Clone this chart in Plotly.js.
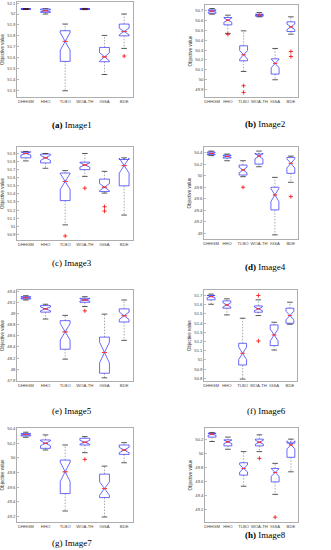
<!DOCTYPE html>
<html>
<head>
<meta charset="utf-8">
<script src="https://cdn.plot.ly/plotly-3.0.1.min.js"></script>
<style>html,body{margin:0;padding:0;background:#fff;}#chart{width:331px;height:550px;}</style>
</head>
<body>
<div id="chart"></div>
<script>
// ---- Data ----
const cats = ['DHHGM', 'HHO', 'TLBO', 'WOA-TH', 'IGSA', 'BDE'];
const captionLetter = ['(a)', '(b)', '(c)', '(d)', '(e)', '(f)', '(g)', '(h)'];
const captionName = ['Image1', 'Image2', 'Image3', 'Image4', 'Image5', 'Image6', 'Image7', 'Image8'];

// lower whisker end, per image (rows) and algorithm (columns)
const lowWhisker = [
  [52.041, 52.000, 51.297, 52.040, 51.446, 51.685],
  [50.666, 50.470, 50.081, 50.639, 49.996, 50.462],
  [51.808, 51.717, 51.017, 51.617, 51.410, 51.138],
  [50.354, 50.261, 49.984, 50.157, 48.972, 49.886],
  [49.241, 48.900, 48.182, 49.124, 47.847, 48.518],
  [51.605, 51.489, 50.791, 51.482, 51.107, 51.387],
  [50.283, 50.108, 49.271, 50.071, 49.189, 49.933],
  [50.176, 50.065, 49.533, 50.031, 49.417, 49.741]
];
const q1 = [
  [52.044, 52.015, 51.566, 52.042, 51.563, 51.800],
  [50.676, 50.557, 50.190, 50.646, 50.054, 50.489],
  [51.846, 51.783, 51.317, 51.700, 51.429, 51.500],
  [50.365, 50.308, 50.013, 50.203, 49.406, 50.042],
  [49.259, 49.024, 48.359, 49.200, 47.929, 48.847],
  [51.653, 51.562, 50.944, 51.518, 51.155, 51.398],
  [50.301, 50.131, 49.510, 50.177, 49.455, 50.048],
  [50.239, 50.113, 49.693, 50.113, 49.596, 49.949]
];
const median = [
  [52.046, 52.030, 51.749, 52.046, 51.608, 51.840],
  [50.697, 50.605, 50.251, 50.659, 50.163, 50.537],
  [51.900, 51.846, 51.554, 51.758, 51.483, 51.750],
  [50.388, 50.336, 50.100, 50.342, 49.666, 50.215],
  [49.282, 49.082, 48.671, 49.241, 48.300, 48.959],
  [51.689, 51.598, 51.071, 51.555, 51.271, 51.482],
  [50.320, 50.200, 49.809, 50.214, 49.579, 50.108],
  [50.282, 50.171, 49.789, 50.166, 49.731, 50.128]
];
const q3 = [
  [52.048, 52.046, 51.847, 52.049, 51.694, 51.908],
  [50.710, 50.632, 50.343, 50.666, 50.210, 50.588],
  [51.917, 51.892, 51.658, 51.792, 51.583, 51.825],
  [50.412, 50.360, 50.186, 50.377, 49.800, 50.319],
  [49.300, 49.141, 48.871, 49.271, 48.576, 49.082],
  [51.700, 51.642, 51.180, 51.587, 51.380, 51.562],
  [50.333, 50.246, 49.970, 50.269, 49.777, 50.177],
  [50.292, 50.200, 49.871, 50.210, 49.789, 50.152]
];
const highWhisker = [
  [52.050, 52.048, 51.908, 52.051, 51.804, 52.000],
  [50.724, 50.656, 50.496, 50.683, 50.316, 50.639],
  [51.925, 51.900, 51.688, 51.900, 51.679, 51.846],
  [50.429, 50.377, 50.261, 50.429, 49.972, 50.342],
  [49.318, 49.165, 48.965, 49.300, 48.988, 49.241],
  [51.715, 51.664, 51.453, 51.653, 51.409, 51.627],
  [50.352, 50.315, 50.177, 50.292, 49.887, 50.209],
  [50.306, 50.239, 50.031, 50.272, 49.862, 50.210]
];
const outlierCat = [
  ['BDE'],
  ['HHO', 'TLBO', 'TLBO', 'BDE', 'BDE'],
  ['TLBO', 'WOA-TH', 'IGSA', 'IGSA'],
  ['TLBO', 'BDE'],
  ['WOA-TH'],
  ['WOA-TH', 'WOA-TH'],
  ['WOA-TH'],
  ['WOA-TH', 'IGSA']
];
const outlierVal = [
  [51.615],
  [50.460, 49.935, 49.867, 50.285, 50.234],
  [50.880, 51.471, 51.242, 51.188],
  [49.800, 49.637],
  [49.047],
  [51.700, 51.205],
  [49.979],
  [49.934, 49.089]
];

// ---- Layout geometry (pixels in the 331x550 figure) ----
const W = 331, H = 550;
const boxes = [
  {x0: 17, x1: 133, y0: 2, y1: 97},
  {x0: 205, x1: 298, y0: 5, y1: 97},
  {x0: 17, x1: 133, y0: 147, y1: 240},
  {x0: 204, x1: 298, y0: 147, y1: 239},
  {x0: 17, x1: 133, y0: 290, y1: 381},
  {x0: 204, x1: 297, y0: 290, y1: 381},
  {x0: 17, x1: 133, y0: 428, y1: 522},
  {x0: 205, x1: 298, y0: 428, y1: 522}
];
const yRanges = [
  [51.24, 52.11], [49.82, 50.76], [50.83, 51.98], [48.90, 50.50],
  [47.79, 49.42], [50.77, 51.76], [49.12, 50.41], [49.02, 50.37]
];
const yDtick = [0.1, 0.1, 0.1, 0.2, 0.2, 0.1, 0.2, 0.2];
const captionPos = [
  {x: 72, y: 125}, {x: 265, y: 124}, {x: 72, y: 263}, {x: 265, y: 267},
  {x: 72, y: 411}, {x: 266, y: 411}, {x: 72, y: 543}, {x: 265, y: 535}
];
const boldCaption = [true, true, false, true, false, false, false, true];

const traces = [];
const layout = {
  width: W, height: H,
  margin: {l: 0, r: 0, t: 0, b: 0},
  paper_bgcolor: '#ffffff', plot_bgcolor: '#ffffff',
  showlegend: false,
  boxmode: 'overlay',
  font: {family: 'Liberation Sans, Arial, sans-serif', color: '#333'},
  annotations: []
};

for (let i = 0; i < 8; i++) {
  const xa = 'x' + (i + 1), ya = 'y' + (i + 1);
  const notch = q1[i].map((v, j) => 1.57 * (q3[i][j] - v) / Math.sqrt(30));

  // main notched box (blue outline)
  traces.push({
    type: 'box', xaxis: xa, yaxis: ya, x: cats,
    q1: q1[i], median: median[i], q3: q3[i],
    lowerfence: q1[i], upperfence: q3[i],
    notched: true, notchspan: notch, notchwidth: 0.5,
    width: 0.5, whiskerwidth: 0, boxpoints: false,
    line: {color: '#2a2aff', width: 0.7},
    fillcolor: 'rgba(0,0,0,0)', hoverinfo: 'skip'
  });
  // red median marks
  traces.push({
    type: 'box', xaxis: xa, yaxis: ya, x: cats,
    q1: median[i], median: median[i], q3: median[i],
    lowerfence: median[i], upperfence: median[i],
    width: 0.25, whiskerwidth: 0, boxpoints: false,
    line: {color: '#ff3030', width: 0.6},
    fillcolor: 'rgba(0,0,0,0)', hoverinfo: 'skip'
  });
  // dashed whiskers
  const wx = [], wy = [];
  cats.forEach((c, j) => {
    wx.push(c, c, null, c, c, null);
    wy.push(q3[i][j], highWhisker[i][j], null, q1[i][j], lowWhisker[i][j], null);
  });
  traces.push({
    type: 'scatter', mode: 'lines', xaxis: xa, yaxis: ya, x: wx, y: wy,
    line: {color: '#555', width: 0.5, dash: '1.5px,1.5px'}, hoverinfo: 'skip'
  });
  // whisker caps
  traces.push({
    type: 'scatter', mode: 'markers', xaxis: xa, yaxis: ya,
    x: cats.concat(cats), y: highWhisker[i].concat(lowWhisker[i]),
    marker: {symbol: 'line-ew', size: 4, line: {color: '#111', width: 0.7}},
    hoverinfo: 'skip'
  });
  // outliers
  traces.push({
    type: 'scatter', mode: 'markers', xaxis: xa, yaxis: ya,
    x: outlierCat[i], y: outlierVal[i],
    marker: {symbol: 'cross-thin', size: 3, color: '#ff0000', line: {color: '#ff0000', width: 0.8}},
    hoverinfo: 'skip'
  });

  const b = boxes[i];
  const axCommon = {
    showline: true, mirror: true, linecolor: '#8c8c8c', linewidth: 0.7,
    ticks: 'inside', ticklen: 2, tickcolor: '#8c8c8c', tickwidth: 0.6,
    showgrid: false, zeroline: false,
    tickfont: {size: 4.2, color: '#444', family: 'Liberation Sans, Arial, sans-serif'}
  };
  layout['xaxis' + (i + 1)] = Object.assign({}, axCommon, {
    anchor: ya, domain: [b.x0 / W, b.x1 / W],
    type: 'category', categoryorder: 'array', categoryarray: cats,
    range: [-0.45, 5.45], ticklen: 0, tickangle: 0
  });
  layout['yaxis' + (i + 1)] = Object.assign({}, axCommon, {
    anchor: xa, domain: [1 - b.y1 / H, 1 - b.y0 / H],
    range: yRanges[i], dtick: yDtick[i], tick0: 0,
    title: {text: 'Objective value', font: {size: 4.5, color: '#333'}, standoff: 2}
  });

  const cp = captionPos[i];
  const lbl = boldCaption[i] ? '<b>' + captionLetter[i] + '</b>' : captionLetter[i];
  layout.annotations.push({
    xref: 'paper', yref: 'paper', x: cp.x / W, y: 1 - cp.y / H,
    xanchor: 'center', yanchor: 'middle', showarrow: false,
    text: lbl + ' ' + captionName[i],
    font: {family: 'Liberation Serif, Times New Roman, serif', size: 9, color: '#000'}
  });
}

Plotly.newPlot('chart', traces, layout, {staticPlot: true, displayModeBar: false});
</script>
</body>
</html>
